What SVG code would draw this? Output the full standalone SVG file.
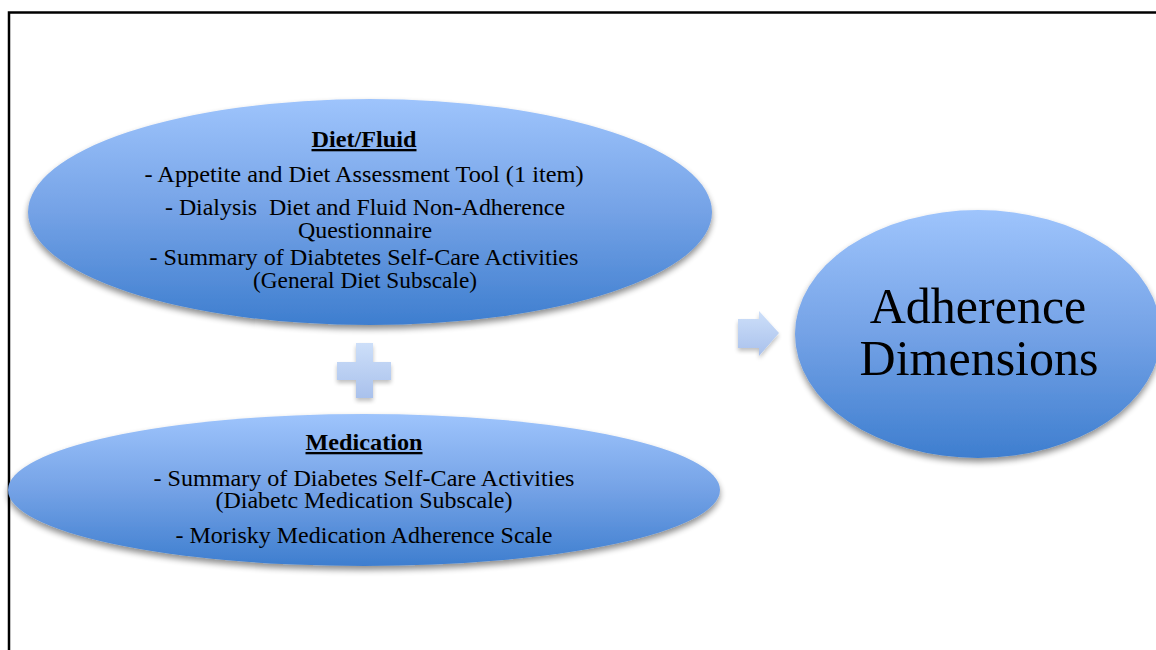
<svg xmlns="http://www.w3.org/2000/svg" width="1156" height="650" viewBox="0 0 1156 650">
  <defs>
    <linearGradient id="blueFill" x1="0" y1="0" x2="0" y2="1">
      <stop offset="0" stop-color="#9ec4fc"/>
      <stop offset="0.5" stop-color="#74a2e6"/>
      <stop offset="1" stop-color="#3e7ecf"/>
    </linearGradient>
    <linearGradient id="paleFill" x1="0" y1="0" x2="0" y2="1">
      <stop offset="0" stop-color="#cddff9"/>
      <stop offset="1" stop-color="#a9c1ec"/>
    </linearGradient>
    <filter id="shadow" x="-10%" y="-10%" width="120%" height="130%">
      <feGaussianBlur in="SourceAlpha" stdDeviation="3"/>
      <feOffset dx="0" dy="4" result="blur"/>
      <feComponentTransfer><feFuncA type="linear" slope="0.45"/></feComponentTransfer>
      <feMerge><feMergeNode/><feMergeNode in="SourceGraphic"/></feMerge>
    </filter>
    <filter id="softShadow" x="-20%" y="-20%" width="140%" height="150%">
      <feGaussianBlur in="SourceAlpha" stdDeviation="2"/>
      <feOffset dx="0" dy="3" result="blur"/>
      <feComponentTransfer><feFuncA type="linear" slope="0.25"/></feComponentTransfer>
      <feMerge><feMergeNode/><feMergeNode in="SourceGraphic"/></feMerge>
    </filter>
  </defs>
  <style>
    .body { font-family: "Liberation Serif", "Times New Roman", serif; font-size: 23px; fill: #000; text-anchor: middle; }
    .head { font-weight: bold; text-decoration: underline; }
    .big { font-family: "Liberation Serif", "Times New Roman", serif; font-size: 50px; fill: #000; text-anchor: middle; }
    .frame { fill: none; stroke: #000; stroke-width: 2.5; }
  </style>

  <rect width="1156" height="650" fill="#fff"/>
  <!-- page frame -->
  <path class="frame" d="M9 650 V12.5 H1156"/>

  <!-- connectors: plus sign and arrow -->
  <g id="connectors">
    <path filter="url(#softShadow)" fill="url(#paleFill)" d="M356 343 H373 V362 H391 V380 H373 V398 H356 V380 H337 V362 H356 Z"/>
    <path filter="url(#softShadow)" fill="url(#paleFill)" d="M738 319 H759 V311 L779 333 L759 356 V348 H738 Z"/>
  </g>

  <g id="diet-fluid">
    <ellipse cx="370" cy="212" rx="342" ry="113" fill="url(#blueFill)" filter="url(#shadow)"/>
    <text class="body head" x="364" y="147" textLength="105" lengthAdjust="spacingAndGlyphs">Diet/Fluid</text>
    <text class="body" x="364" y="182" textLength="439" lengthAdjust="spacingAndGlyphs">- Appetite and Diet Assessment Tool (1 item)</text>
    <text class="body" x="365" y="215" textLength="400" lengthAdjust="spacingAndGlyphs" xml:space="preserve">- Dialysis  Diet and Fluid Non-Adherence</text>
    <text class="body" x="365" y="238" textLength="134" lengthAdjust="spacingAndGlyphs">Questionnaire</text>
    <text class="body" x="364" y="265" textLength="429" lengthAdjust="spacingAndGlyphs">- Summary of Diabtetes Self-Care Activities</text>
    <text class="body" x="365" y="288" textLength="224" lengthAdjust="spacingAndGlyphs">(General Diet Subscale)</text>
  </g>

  <g id="medication">
    <ellipse cx="364" cy="490" rx="356" ry="76" fill="url(#blueFill)" filter="url(#shadow)"/>
    <text class="body head" x="364" y="450" textLength="117" lengthAdjust="spacingAndGlyphs">Medication</text>
    <text class="body" x="364" y="486" textLength="421" lengthAdjust="spacingAndGlyphs">- Summary of Diabetes Self-Care Activities</text>
    <text class="body" x="364" y="508" textLength="297" lengthAdjust="spacingAndGlyphs">(Diabetc Medication Subscale)</text>
    <text class="body" x="364" y="543" textLength="377" lengthAdjust="spacingAndGlyphs">- Morisky Medication Adherence Scale</text>
  </g>

  <g id="adherence">
    <ellipse cx="978" cy="334" rx="183" ry="124" fill="url(#blueFill)" filter="url(#shadow)"/>
    <text class="big" x="978" y="323">Adherence</text>
    <text class="big" x="979" y="375">Dimensions</text>
  </g>
</svg>
